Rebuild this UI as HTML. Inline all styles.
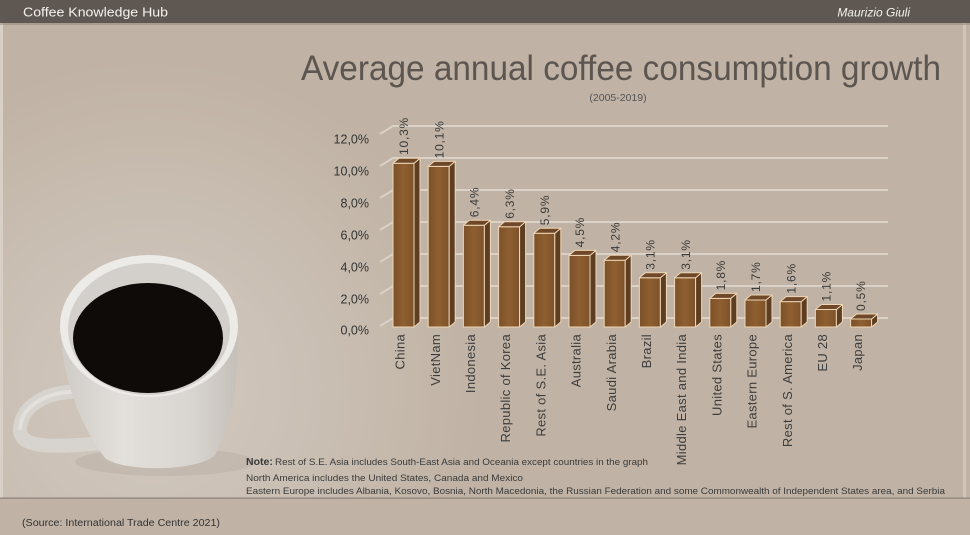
<!DOCTYPE html>
<html><head><meta charset="utf-8"><style>
html,body{margin:0;padding:0;background:#c0b3a5;}
svg{display:block;font-family:"Liberation Sans",sans-serif;}
</style></head><body>
<svg width="970" height="535" viewBox="0 0 970 535" xmlns="http://www.w3.org/2000/svg">
<defs>
<radialGradient id="bg" cx="150" cy="390" r="330" gradientUnits="userSpaceOnUse">
<stop offset="0" stop-color="#d2cac1"/><stop offset="0.55" stop-color="#c9beb2"/><stop offset="1" stop-color="#c0b3a5"/>
</radialGradient>
<linearGradient id="body" x1="0" x2="1" y1="0" y2="0">
<stop offset="0" stop-color="#cfcbc6"/><stop offset="0.35" stop-color="#e3e0dc"/><stop offset="0.75" stop-color="#d8d4cf"/><stop offset="1" stop-color="#c4bfb9"/>
</linearGradient>
<linearGradient id="front" x1="0" x2="1" y1="0" y2="0">
<stop offset="0" stop-color="#7c5029"/><stop offset="0.5" stop-color="#8e5f31"/><stop offset="1" stop-color="#7e522a"/>
</linearGradient>
</defs>
<rect width="970" height="535" fill="#c0b3a5"/>
<rect x="0" y="23" width="970" height="475" fill="url(#bg)"/>
<rect x="0" y="23" width="3" height="475" fill="#d8d0c7"/>
<rect x="963" y="23" width="3" height="475" fill="#cec5bb"/>
<!-- header -->
<rect x="0" y="0" width="970" height="23" fill="#5f5852"/>
<rect x="0" y="23" width="970" height="2" fill="#8f857b" opacity="0.5"/>
<text x="23" y="16.5" font-size="13" fill="#f4f2ef" textLength="145" lengthAdjust="spacingAndGlyphs">Coffee Knowledge Hub</text>
<text x="910" y="16.5" font-size="12" font-style="italic" fill="#f4f2ef" text-anchor="end">Maurizio Giuli</text>
<!-- title -->
<text x="301" y="80" font-size="35" fill="#5c5550" textLength="640" lengthAdjust="spacingAndGlyphs">Average annual coffee consumption growth</text>
<text x="618" y="101" font-size="10.5" fill="#555" text-anchor="middle">(2005-2019)</text>
<!-- cup -->
<ellipse cx="165" cy="462" rx="90" ry="14" fill="#b8ada2" opacity="0.45"/>
<path d="M82,392 C50,390 22,404 20,428 C19,446 42,449 102,443" fill="none" stroke="#d7d3ce" stroke-width="14" stroke-linecap="round"/>
<path d="M82,392 C50,390 22,404 20,428" fill="none" stroke="#e6e3df" stroke-width="4" stroke-linecap="round" opacity="0.8"/>
<path d="M61,330 C62,385 85,432 105,458 C122,472 198,472 215,455 C233,420 238,385 238,330 Z" fill="url(#body)"/>
<ellipse cx="149" cy="326" rx="89" ry="71" fill="#ecebe8"/>
<ellipse cx="149" cy="329" rx="81" ry="66" fill="#d3d0cc"/>
<ellipse cx="148" cy="338" rx="75" ry="55" fill="#0f0b09"/>
<!-- gridlines -->
<g stroke="#dad1c7" stroke-width="2" fill="none">
<path d="M380,134 L393,126 L888,126"/>
<path d="M380,166 L393,158 L888,158"/>
<path d="M380,198 L393,190 L888,190"/>
<path d="M380,230 L393,222 L888,222"/>
<path d="M380,262 L393,254 L888,254"/>
<path d="M380,294 L393,286 L888,286"/>
<path d="M380,326 L393,318 L888,318"/>
</g>
<!-- y labels -->
<g font-size="12.5" fill="#333" text-anchor="end">
<text x="369" y="143.5">12,0%</text>
<text x="369" y="175.5">10,0%</text>
<text x="369" y="207.5">8,0%</text>
<text x="369" y="239.5">6,0%</text>
<text x="369" y="271.5">4,0%</text>
<text x="369" y="303.5">2,0%</text>
<text x="369" y="334.5">0,0%</text>
</g>
<!-- bars -->
<g stroke="#eed6b5" stroke-width="1" stroke-linejoin="round">
<g transform="translate(393,0)"><rect x="0" y="163.2" width="21" height="163.8" fill="url(#front)"/><polygon points="21,163.2 27,158.2 27,322 21,327" fill="#5d3e23"/><polygon points="0,163.2 6,158.2 27,158.2 21,163.2" fill="#6e4828"/></g>
<g transform="translate(428.2,0)"><rect x="0" y="166.4" width="21" height="160.6" fill="url(#front)"/><polygon points="21,166.4 27,161.4 27,322 21,327" fill="#5d3e23"/><polygon points="0,166.4 6,161.4 27,161.4 21,166.4" fill="#6e4828"/></g>
<g transform="translate(463.4,0)"><rect x="0" y="225.2" width="21" height="101.8" fill="url(#front)"/><polygon points="21,225.2 27,220.2 27,322 21,327" fill="#5d3e23"/><polygon points="0,225.2 6,220.2 27,220.2 21,225.2" fill="#6e4828"/></g>
<g transform="translate(498.6,0)"><rect x="0" y="226.8" width="21" height="100.2" fill="url(#front)"/><polygon points="21,226.8 27,221.8 27,322 21,327" fill="#5d3e23"/><polygon points="0,226.8 6,221.8 27,221.8 21,226.8" fill="#6e4828"/></g>
<g transform="translate(533.8,0)"><rect x="0" y="233.2" width="21" height="93.8" fill="url(#front)"/><polygon points="21,233.2 27,228.2 27,322 21,327" fill="#5d3e23"/><polygon points="0,233.2 6,228.2 27,228.2 21,233.2" fill="#6e4828"/></g>
<g transform="translate(569,0)"><rect x="0" y="255.4" width="21" height="71.6" fill="url(#front)"/><polygon points="21,255.4 27,250.4 27,322 21,327" fill="#5d3e23"/><polygon points="0,255.4 6,250.4 27,250.4 21,255.4" fill="#6e4828"/></g>
<g transform="translate(604.2,0)"><rect x="0" y="260.2" width="21" height="66.8" fill="url(#front)"/><polygon points="21,260.2 27,255.2 27,322 21,327" fill="#5d3e23"/><polygon points="0,260.2 6,255.2 27,255.2 21,260.2" fill="#6e4828"/></g>
<g transform="translate(639.4,0)"><rect x="0" y="277.7" width="21" height="49.3" fill="url(#front)"/><polygon points="21,277.7 27,272.7 27,322 21,327" fill="#5d3e23"/><polygon points="0,277.7 6,272.7 27,272.7 21,277.7" fill="#6e4828"/></g>
<g transform="translate(674.6,0)"><rect x="0" y="277.7" width="21" height="49.3" fill="url(#front)"/><polygon points="21,277.7 27,272.7 27,322 21,327" fill="#5d3e23"/><polygon points="0,277.7 6,272.7 27,272.7 21,277.7" fill="#6e4828"/></g>
<g transform="translate(709.8,0)"><rect x="0" y="298.4" width="21" height="28.6" fill="url(#front)"/><polygon points="21,298.4 27,293.4 27,322 21,327" fill="#5d3e23"/><polygon points="0,298.4 6,293.4 27,293.4 21,298.4" fill="#6e4828"/></g>
<g transform="translate(745,0)"><rect x="0" y="300" width="21" height="27" fill="url(#front)"/><polygon points="21,300 27,295 27,322 21,327" fill="#5d3e23"/><polygon points="0,300 6,295 27,295 21,300" fill="#6e4828"/></g>
<g transform="translate(780.2,0)"><rect x="0" y="301.6" width="21" height="25.4" fill="url(#front)"/><polygon points="21,301.6 27,296.6 27,322 21,327" fill="#5d3e23"/><polygon points="0,301.6 6,296.6 27,296.6 21,301.6" fill="#6e4828"/></g>
<g transform="translate(815.4,0)"><rect x="0" y="309.5" width="21" height="17.5" fill="url(#front)"/><polygon points="21,309.5 27,304.5 27,322 21,327" fill="#5d3e23"/><polygon points="0,309.5 6,304.5 27,304.5 21,309.5" fill="#6e4828"/></g>
<g transform="translate(850.6,0)"><rect x="0" y="319" width="21" height="8" fill="url(#front)"/><polygon points="21,319 27,314 27,322 21,327" fill="#5d3e23"/><polygon points="0,319 6,314 27,314 21,319" fill="#6e4828"/></g>
</g>
<!-- value labels -->
<g font-size="12" fill="#3a3a3a" letter-spacing="0.8">
<text transform="translate(404,155) rotate(-90)" dy="0.35em">10,3%</text>
<text transform="translate(439.2,158.4) rotate(-90)" dy="0.35em">10,1%</text>
<text transform="translate(474.4,217.2) rotate(-90)" dy="0.35em">6,4%</text>
<text transform="translate(509.6,218.8) rotate(-90)" dy="0.35em">6,3%</text>
<text transform="translate(544.8,225.2) rotate(-90)" dy="0.35em">5,9%</text>
<text transform="translate(580,247.4) rotate(-90)" dy="0.35em">4,5%</text>
<text transform="translate(615.2,252.2) rotate(-90)" dy="0.35em">4,2%</text>
<text transform="translate(650.4,269.7) rotate(-90)" dy="0.35em">3,1%</text>
<text transform="translate(685.6,269.7) rotate(-90)" dy="0.35em">3,1%</text>
<text transform="translate(720.8,290.4) rotate(-90)" dy="0.35em">1,8%</text>
<text transform="translate(756,292) rotate(-90)" dy="0.35em">1,7%</text>
<text transform="translate(791.2,293.6) rotate(-90)" dy="0.35em">1,6%</text>
<text transform="translate(826.4,301.5) rotate(-90)" dy="0.35em">1,1%</text>
<text transform="translate(860.6,311) rotate(-90)" dy="0.35em">0,5%</text>
</g>
<!-- category labels -->
<g font-size="13" fill="#3d3d3d" letter-spacing="0.3" text-anchor="end">
<text transform="translate(400,334) rotate(-90)" dy="0.35em">China</text>
<text transform="translate(435.2,334) rotate(-90)" dy="0.35em">VietNam</text>
<text transform="translate(470.4,334) rotate(-90)" dy="0.35em">Indonesia</text>
<text transform="translate(505.6,334) rotate(-90)" dy="0.35em">Republic of Korea</text>
<text transform="translate(540.8,334) rotate(-90)" dy="0.35em">Rest of S.E. Asia</text>
<text transform="translate(576,334) rotate(-90)" dy="0.35em">Australia</text>
<text transform="translate(611.2,334) rotate(-90)" dy="0.35em">Saudi Arabia</text>
<text transform="translate(646.4,334) rotate(-90)" dy="0.35em">Brazil</text>
<text transform="translate(681.6,334) rotate(-90)" dy="0.35em">Middle East and India</text>
<text transform="translate(716.8,334) rotate(-90)" dy="0.35em">United States</text>
<text transform="translate(752,334) rotate(-90)" dy="0.35em">Eastern Europe</text>
<text transform="translate(787.2,334) rotate(-90)" dy="0.35em">Rest of S. America</text>
<text transform="translate(822.4,334) rotate(-90)" dy="0.35em">EU 28</text>
<text transform="translate(857.6,334) rotate(-90)" dy="0.35em">Japan</text>
</g>
<!-- notes -->
<g fill="#3a3a3a">
<text x="246" y="465" font-size="10"><tspan font-weight="bold" font-size="10.5">Note:</tspan></text>
<text x="275" y="465" font-size="9" textLength="373" lengthAdjust="spacingAndGlyphs">Rest of S.E. Asia includes South-East Asia and Oceania except countries in the graph</text>
<text x="246" y="481" font-size="9" textLength="277" lengthAdjust="spacingAndGlyphs">North America includes the United States, Canada and Mexico</text>
<text x="246" y="494" font-size="9" textLength="699" lengthAdjust="spacingAndGlyphs">Eastern Europe includes Albania, Kosovo, Bosnia, North Macedonia, the Russian Federation and some Commonwealth of Independent    States area, and Serbia</text>
</g>
<rect x="0" y="497.5" width="970" height="1.2" fill="#8a8077"/>
<text x="22" y="526" font-size="10" fill="#333" textLength="198" lengthAdjust="spacingAndGlyphs">(Source: International Trade Centre 2021)</text>
</svg>
</body></html>
